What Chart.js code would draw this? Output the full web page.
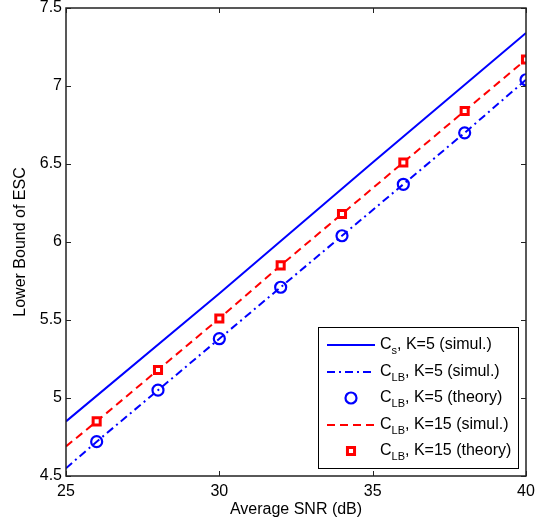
<!DOCTYPE html>
<html lang="en">
<head>
    <meta charset="UTF-8">
    <title>Lower Bound of ESC vs Average SNR</title>
    <script src="https://cdn.jsdelivr.net/npm/chart.js"></script>
    <style>
        body { margin: 0; padding: 0; background: #fff; }
        #chart { display: block; }
    </style>
</head>
<body>
    <canvas id="chart" width="542" height="522"></canvas>

    <script>
        // values
        const xTicks = [25, 30, 35, 40];
        const yTicks = [4.5, 5, 5.5, 6, 6.5, 7, 7.5];

        const csSnr = [25, 30, 35, 40];
        const csK5Simul = [4.85, 5.67, 6.51, 7.34];

        const lbSnr = [25, 26, 28, 30, 32, 34, 36, 38, 40];
        const lbK5Simul = [4.55, 4.72, 5.05, 5.38, 5.71, 6.04, 6.37, 6.70, 7.04];
        const lbK15Simul = [4.69, 4.85, 5.18, 5.51, 5.85, 6.18, 6.51, 6.84, 7.17];

        const theorySnr = [26, 28, 30, 32, 34, 36, 38, 40];
        const lbK5Theory = [4.72, 5.05, 5.38, 5.71, 6.04, 6.37, 6.70, 7.04];
        const lbK15Theory = [4.85, 5.18, 5.51, 5.85, 6.18, 6.51, 6.84, 7.17];

        // legend labels: [main, subscript, rest]
        const legendLabels = [
            ['C', 's', ', K=5 (simul.)'],
            ['C', 'LB', ', K=5 (simul.)'],
            ['C', 'LB', ', K=5 (theory)'],
            ['C', 'LB', ', K=15 (simul.)'],
            ['C', 'LB', ', K=15 (theory)']
        ];

        const pts = (xs, ys) => xs.map((x, i) => ({ x: x, y: ys[i] }));

        const FONT = '"Liberation Sans", Arial, sans-serif';
        const AXIS = '#222';

        // box, inner ticks, axis titles and the matlab style legend
        const matlabFrame = {
            id: 'matlabFrame',
            afterDraw(chart) {
                const ctx = chart.ctx;
                const a = chart.chartArea;
                const xs = chart.scales.x, ys = chart.scales.y;
                ctx.save();
                ctx.strokeStyle = AXIS;
                ctx.lineWidth = 1.5;
                ctx.strokeRect(a.left, a.top, a.right - a.left, a.bottom - a.top);

                ctx.lineWidth = 1;
                const tl = 5;
                ctx.beginPath();
                xTicks.forEach(v => {
                    const px = Math.round(xs.getPixelForValue(v)) + 0.5;
                    ctx.moveTo(px, a.bottom); ctx.lineTo(px, a.bottom - tl);
                    ctx.moveTo(px, a.top); ctx.lineTo(px, a.top + tl);
                });
                yTicks.forEach(v => {
                    const py = Math.round(ys.getPixelForValue(v)) + 0.5;
                    ctx.moveTo(a.left, py); ctx.lineTo(a.left + tl, py);
                    ctx.moveTo(a.right, py); ctx.lineTo(a.right - tl, py);
                });
                ctx.stroke();

                // axis titles
                ctx.fillStyle = '#000';
                ctx.font = '16px ' + FONT;
                ctx.textAlign = 'center';
                ctx.textBaseline = 'middle';
                ctx.fillText('Average SNR (dB)', (a.left + a.right) / 2, 510);
                ctx.save();
                ctx.translate(21, (a.top + a.bottom) / 2);
                ctx.rotate(-Math.PI / 2);
                ctx.fillText('Lower Bound of ESC', 0, 0);
                ctx.restore();

                // legend
                const lx = 318, ly = 327, lw = 200, lh = 141;
                ctx.fillStyle = '#fff';
                ctx.fillRect(lx, ly, lw, lh);
                ctx.strokeStyle = '#000';
                ctx.lineWidth = 1;
                ctx.strokeRect(lx + 0.5, ly + 0.5, lw, lh);

                const rowY = [345, 372, 398, 425, 451];
                chart.data.datasets.forEach((ds, i) => {
                    const y = rowY[i];
                    ctx.save();
                    if (ds.showLine !== false) {
                        ctx.strokeStyle = ds.borderColor;
                        ctx.lineWidth = ds.borderWidth;
                        ctx.setLineDash(ds.borderDash || []);
                        ctx.beginPath();
                        ctx.moveTo(327, y);
                        ctx.lineTo(375, y);
                        ctx.stroke();
                    } else {
                        ctx.strokeStyle = ds.borderColor;
                        ctx.lineWidth = ds.pointBorderWidth;
                        ctx.fillStyle = ds.pointBackgroundColor;
                        ctx.beginPath();
                        if (ds.pointStyle === 'rect') {
                            const s = ds.pointRadius * Math.SQRT1_2;
                            ctx.rect(351 - s, y - s, 2 * s, 2 * s);
                        } else {
                            ctx.arc(351, y, ds.pointRadius, 0, Math.PI * 2);
                        }
                        ctx.fill();
                        ctx.stroke();
                    }
                    ctx.restore();

                    const lab = legendLabels[i];
                    ctx.fillStyle = '#000';
                    ctx.textAlign = 'left';
                    ctx.textBaseline = 'middle';
                    let x = 380;
                    ctx.font = '16px ' + FONT;
                    ctx.fillText(lab[0], x, y);
                    x += ctx.measureText(lab[0]).width;
                    ctx.font = '11px ' + FONT;
                    ctx.fillText(lab[1], x, y + 6);
                    x += ctx.measureText(lab[1]).width;
                    ctx.font = '16px ' + FONT;
                    ctx.fillText(lab[2], x, y);
                });
                ctx.restore();
            }
        };

        // fixed plot box: drop the label overflow padding chart.js adds
        function fixBox(s, size) {
            if (s.isHorizontal()) s.height = size; else s.width = size;
            s.paddingTop = 0;
            s.paddingBottom = 0;
            s.paddingLeft = 0;
            s.paddingRight = 0;
        }

        const ctx = document.getElementById('chart').getContext('2d');
        const chart = new Chart(ctx, {
            type: 'line',
            data: {
                datasets: [
                    {
                        data: pts(csSnr, csK5Simul),
                        borderColor: '#0000ff',
                        borderWidth: 2,
                        pointRadius: 0,
                        fill: false,
                        order: 1
                    },
                    {
                        data: pts(lbSnr, lbK5Simul),
                        borderColor: '#0000ff',
                        borderWidth: 2,
                        borderDash: [8, 4, 2, 4],
                        pointRadius: 0,
                        fill: false,
                        order: 1
                    },
                    {
                        data: pts(theorySnr, lbK5Theory),
                        showLine: false,
                        borderColor: '#0000ff',
                        pointStyle: 'circle',
                        pointRadius: 5.5,
                        pointBorderWidth: 2.2,
                        pointBackgroundColor: 'rgba(0,0,0,0)',
                        order: 0
                    },
                    {
                        data: pts(lbSnr, lbK15Simul),
                        borderColor: '#ff0000',
                        borderWidth: 2,
                        borderDash: [8, 5],
                        pointRadius: 0,
                        fill: false,
                        order: 1
                    },
                    {
                        data: pts(theorySnr, lbK15Theory),
                        showLine: false,
                        borderColor: '#ff0000',
                        pointStyle: 'rect',
                        pointRadius: 5,
                        pointBorderWidth: 3,
                        pointBackgroundColor: '#ffffff',
                        order: 0
                    }
                ]
            },
            options: {
                responsive: false,
                animation: false,
                devicePixelRatio: 1,
                layout: { padding: { top: 8, right: 16, left: 0, bottom: 0 } },
                plugins: {
                    legend: { display: false },
                    tooltip: { enabled: false }
                },
                scales: {
                    x: {
                        type: 'linear',
                        min: 25,
                        max: 40,
                        afterBuildTicks: s => { s.ticks = xTicks.map(v => ({ value: v })); },
                        afterFit: s => fixBox(s, 46),
                        grid: { display: false, drawTicks: false, tickLength: 0 },
                        border: { display: false },
                        ticks: {
                            color: '#000',
                            padding: 6,
                            maxRotation: 0,
                            font: { family: FONT, size: 16 }
                        }
                    },
                    y: {
                        min: 4.5,
                        max: 7.5,
                        afterBuildTicks: s => { s.ticks = yTicks.map(v => ({ value: v })); },
                        afterFit: s => fixBox(s, 66),
                        grid: { display: false, drawTicks: false, tickLength: 0 },
                        border: { display: false },
                        ticks: {
                            color: '#000',
                            padding: 4,
                            font: { family: FONT, size: 16 },
                            callback: v => String(v)
                        }
                    }
                }
            },
            plugins: [matlabFrame]
        });
    </script>
</body>
</html>
